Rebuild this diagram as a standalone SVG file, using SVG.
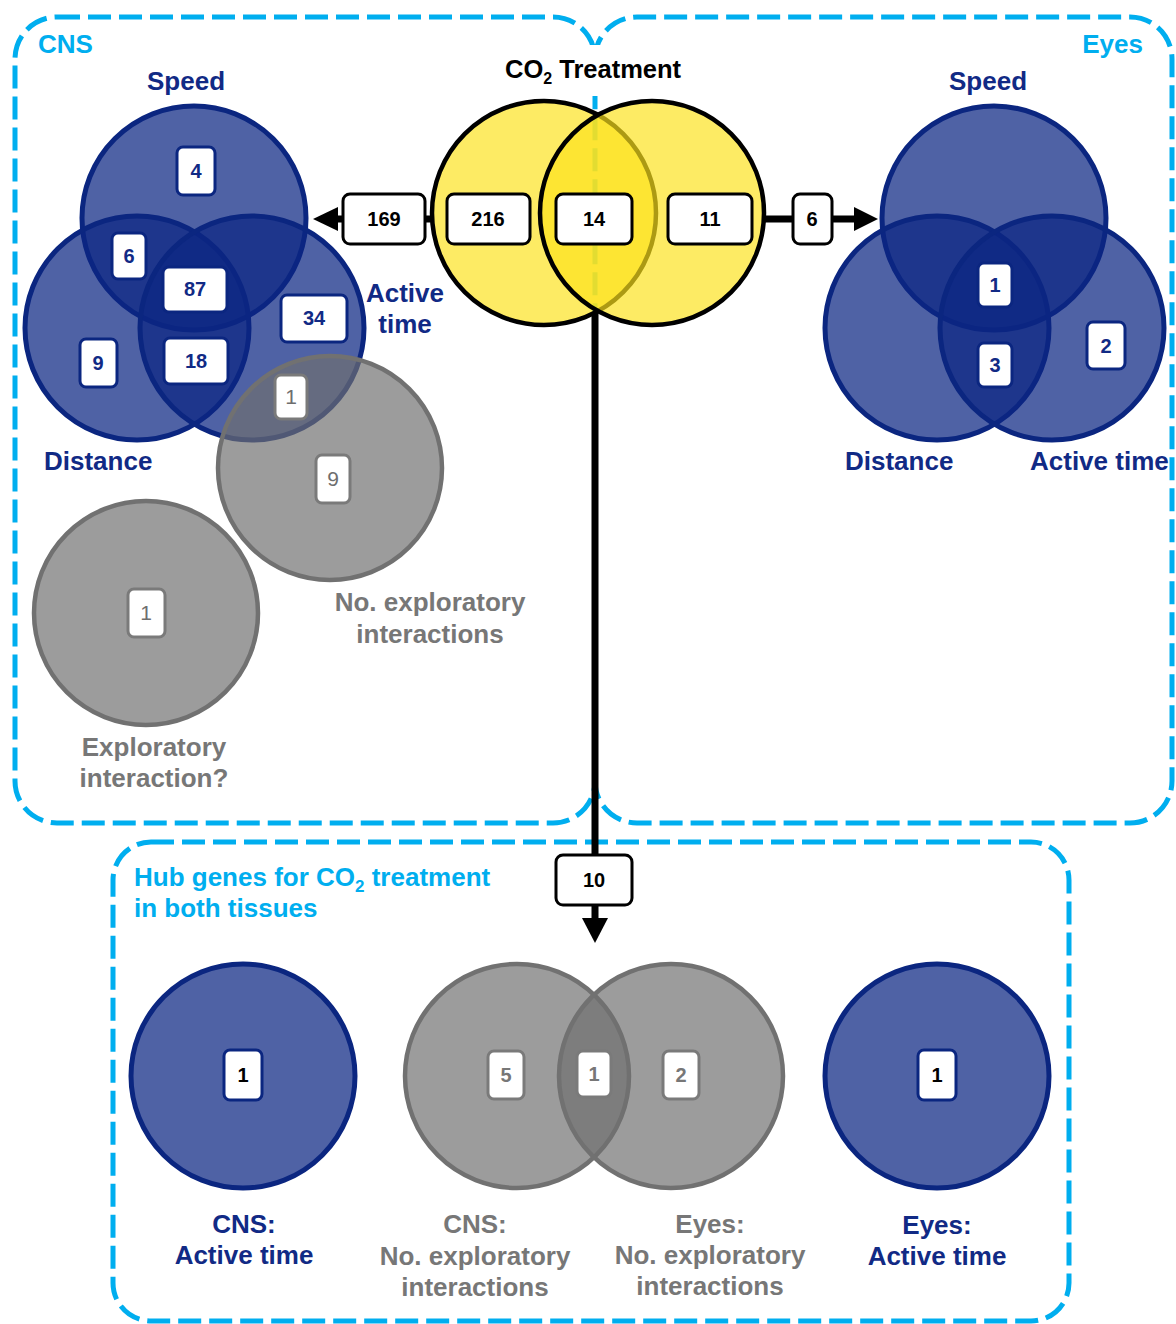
<svg xmlns="http://www.w3.org/2000/svg" width="1176" height="1324" viewBox="0 0 1176 1324">
<style>
text{font-family:"Liberation Sans",Arial,sans-serif;font-weight:bold}
.frame{fill:none;stroke:#00aeef;stroke-width:5;stroke-dasharray:23 8}
.blue{fill:rgb(11,38,130);fill-opacity:.72;stroke:#0b2680;stroke-width:5}
.grey{fill:rgb(112,112,112);fill-opacity:.69;stroke:#717171;stroke-width:4.5}
.yel{fill:rgb(252,226,28);fill-opacity:.684;stroke:#000;stroke-width:4.5}
.bx{fill:#fff;stroke-width:3}
.bb{stroke:#0b2680}
.bk{stroke:#000}
.bg{stroke:#7a7a7a}
.num{font-size:20px;text-anchor:middle}
.lbl{font-size:26px}
.nv{fill:#112a85}
.gy{fill:#777}
.cy{fill:#00aeef}
.k{fill:#000}
.m{text-anchor:middle}
.thin{font-weight:normal;font-size:21px;fill:#6e6e6e}
.wire{stroke:#000;stroke-width:7;fill:none}
</style>

<!-- tissue frames; the Eyes frame shares its left side with the CNS frame -->
<g id="frames">
  <rect id="cns-frame" class="frame" x="15" y="17" width="580" height="806" rx="42"/>
  <path id="eyes-frame" class="frame" d="M595,59 A42,42 0 0 1 637,17 H1130 A42,42 0 0 1 1172,59 V781 A42,42 0 0 1 1130,823 H637 A42,42 0 0 1 595,781"/>
  <rect id="hub-frame" class="frame" x="113" y="842" width="956" height="479" rx="38"/>
  <rect x="500" y="45" width="190" height="51" fill="#fff"/>
</g>

<g id="frame-titles">
  <text class="lbl cy" x="38" y="53" font-size="25">CNS</text>
  <text class="lbl cy" x="1143" y="53" text-anchor="end" font-size="25">Eyes</text>
  <text class="lbl cy" x="134" y="886" font-size="24.5">Hub genes for CO<tspan font-size="17" dy="6">2</tspan><tspan dy="-6"> treatment</tspan></text>
  <text class="lbl cy" x="134" y="917" font-size="24.5">in both tissues</text>
</g>

<!-- CO2 treatment Venn -->
<g id="co2-venn">
  <text class="k" x="505" y="78" font-size="25.5">CO<tspan font-size="16" dy="6">2</tspan><tspan dy="-6"> Treatment</tspan></text>
  <circle class="yel" cx="544" cy="213" r="112"/>
  <circle class="yel" cx="652" cy="213" r="112"/>
</g>

<!-- CNS behaviour Venn -->
<g id="cns-venn">
  <circle class="blue" cx="194" cy="218" r="112"/>
  <circle class="blue" cx="137" cy="328" r="112"/>
  <circle class="blue" cx="252" cy="328" r="112"/>
  <text class="lbl nv m" x="186" y="90">Speed</text>
  <text class="lbl nv" x="44" y="470">Distance</text>
  <text class="lbl nv m" x="405" y="302">Active</text>
  <text class="lbl nv m" x="405" y="333">time</text>
</g>

<g id="cns-exploration">
  <circle class="grey" cx="330" cy="468" r="112"/>
  <circle class="grey" cx="146" cy="613" r="112"/>
  <text class="lbl gy m" x="430" y="611">No. exploratory</text>
  <text class="lbl gy m" x="430" y="643">interactions</text>
  <text class="lbl gy m" x="154" y="756">Exploratory</text>
  <text class="lbl gy m" x="154" y="787">interaction?</text>
</g>

<!-- Eyes behaviour Venn -->
<g id="eyes-venn">
  <circle class="blue" cx="994" cy="218" r="112"/>
  <circle class="blue" cx="937" cy="328" r="112"/>
  <circle class="blue" cx="1052" cy="328" r="112"/>
  <text class="lbl nv m" x="988" y="90">Speed</text>
  <text class="lbl nv" x="845" y="470">Distance</text>
  <text class="lbl nv" x="1030" y="470">Active time</text>
</g>

<!-- connectors -->
<g id="connectors">
  <line class="wire" x1="432" y1="219" x2="336" y2="219"/>
  <polygon points="313,219 338,207 338,231" fill="#000"/>
  <line class="wire" x1="763" y1="219" x2="856" y2="219"/>
  <polygon points="878,219 854,207 854,231" fill="#000"/>
  <line class="wire" x1="595" y1="312" x2="595" y2="920" stroke-width="9"/>
  <polygon points="595,943 582,918 608,918" fill="#000"/>
</g>

<!-- count boxes: treatment -->
<g id="co2-counts">
  <rect class="bx bk" x="343" y="194" width="82" height="50" rx="7"/>
  <text class="num k" x="384" y="226">169</text>
  <rect class="bx bk" x="447" y="194" width="83" height="50" rx="7"/>
  <text class="num k" x="488" y="226">216</text>
  <rect class="bx bk" x="556" y="194" width="76" height="50" rx="7"/>
  <text class="num k" x="594" y="226">14</text>
  <rect class="bx bk" x="668" y="194" width="84" height="50" rx="7"/>
  <text class="num k" x="710" y="226">11</text>
  <rect class="bx bk" x="793" y="194" width="39" height="50" rx="7"/>
  <text class="num k" x="812" y="226">6</text>
  <rect class="bx bk" x="556" y="855" width="76" height="50" rx="7"/>
  <text class="num k" x="594" y="887">10</text>
</g>

<!-- count boxes: CNS -->
<g id="cns-counts">
  <rect class="bx bb" x="177" y="147" width="38" height="48" rx="6"/>
  <text class="num nv" x="196" y="178">4</text>
  <rect class="bx bb" x="112" y="233" width="34" height="46" rx="6"/>
  <text class="num nv" x="129" y="263">6</text>
  <rect class="bx bb" x="163" y="267" width="64" height="45" rx="6"/>
  <text class="num nv" x="195" y="296">87</text>
  <rect class="bx bb" x="281" y="295" width="66" height="47" rx="6"/>
  <text class="num nv" x="314" y="325">34</text>
  <rect class="bx bb" x="80" y="339" width="37" height="48" rx="6"/>
  <text class="num nv" x="98" y="370">9</text>
  <rect class="bx bb" x="164" y="338" width="64" height="46" rx="6"/>
  <text class="num nv" x="196" y="368">18</text>
  <rect class="bx bg" x="275" y="375" width="32" height="44" rx="6"/>
  <text class="num thin" x="291" y="404">1</text>
  <rect class="bx bg" x="316" y="455" width="34" height="48" rx="6"/>
  <text class="num thin" x="333" y="486">9</text>
  <rect class="bx bg" x="128" y="589" width="37" height="48" rx="6"/>
  <text class="num thin" x="146" y="620">1</text>
</g>

<!-- count boxes: Eyes -->
<g id="eyes-counts">
  <rect class="bx bb" x="978" y="263" width="34" height="44" rx="6"/>
  <text class="num nv" x="995" y="292">1</text>
  <rect class="bx bb" x="978" y="343" width="34" height="44" rx="6"/>
  <text class="num nv" x="995" y="372">3</text>
  <rect class="bx bb" x="1087" y="322" width="38" height="47" rx="6"/>
  <text class="num nv" x="1106" y="353">2</text>
</g>

<!-- hub genes shared by both tissues -->
<g id="hub-cns-active">
  <circle class="blue" cx="243" cy="1076" r="112"/>
  <rect class="bx bb" x="224" y="1050" width="38" height="50" rx="6"/>
  <text class="num k" x="243" y="1082">1</text>
  <text class="lbl nv m" x="244" y="1233">CNS:</text>
  <text class="lbl nv m" x="244" y="1264">Active time</text>
</g>

<g id="hub-exploration">
  <circle class="grey" cx="517" cy="1076" r="112"/>
  <circle class="grey" cx="671" cy="1076" r="112"/>
  <rect class="bx bg" x="488" y="1051" width="36" height="48" rx="6"/>
  <text class="num gy" x="506" y="1082">5</text>
  <rect class="bx bg" x="577" y="1051" width="34" height="46" rx="6"/>
  <text class="num gy" x="594" y="1081">1</text>
  <rect class="bx bg" x="663" y="1051" width="36" height="48" rx="6"/>
  <text class="num gy" x="681" y="1082">2</text>
  <text class="lbl gy m" x="475" y="1233">CNS:</text>
  <text class="lbl gy m" x="475" y="1265">No. exploratory</text>
  <text class="lbl gy m" x="475" y="1296">interactions</text>
  <text class="lbl gy m" x="710" y="1233">Eyes:</text>
  <text class="lbl gy m" x="710" y="1264">No. exploratory</text>
  <text class="lbl gy m" x="710" y="1295">interactions</text>
</g>

<g id="hub-eyes-active">
  <circle class="blue" cx="937" cy="1076" r="112"/>
  <rect class="bx bb" x="918" y="1050" width="38" height="50" rx="6"/>
  <text class="num k" x="937" y="1082">1</text>
  <text class="lbl nv m" x="937" y="1234">Eyes:</text>
  <text class="lbl nv m" x="937" y="1265">Active time</text>
</g>
</svg>
